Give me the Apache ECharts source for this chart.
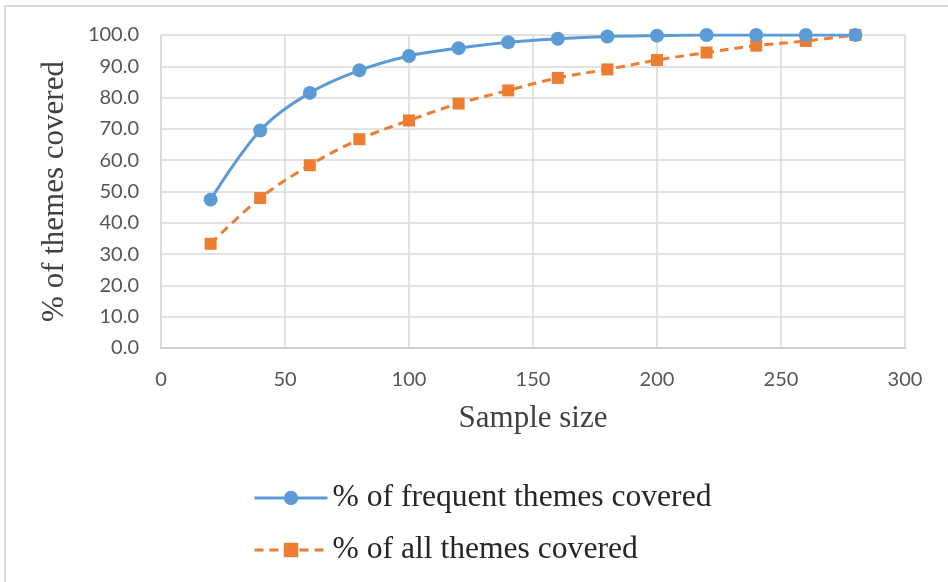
<!DOCTYPE html>
<html>
<head>
<meta charset="utf-8">
<script src="https://cdn.jsdelivr.net/npm/echarts@6/dist/echarts.min.js"></script>
<style>
  html, body { margin: 0; padding: 0; background: #ffffff; }
  #chart { width: 948px; height: 582px; }
</style>
</head>
<body>
<div id="chart"></div>
<script>
// Sample sizes (x values)
const sampleSizes = [20, 40, 60, 80, 100, 120, 140, 160, 180, 200, 220, 240, 260, 280];
// % of frequent themes covered
const frequentThemes = [47.4, 69.5, 81.5, 88.7, 93.3, 95.8, 97.7, 98.8, 99.5, 99.8, 100, 100, 100, 100];
// % of all themes covered
const allThemes = [33.3, 47.9, 58.4, 66.7, 72.7, 78.1, 82.3, 86.3, 89.0, 92.0, 94.4, 96.6, 98.1, 100];

const seriesNames = ['% of frequent themes covered', '% of all themes covered'];
const xTitle = 'Sample size';
const yTitle = '% of themes covered';

const pairs = (xs, ys) => xs.map((x, i) => [x, ys[i]]);

const chart = echarts.init(document.getElementById('chart'), null, { renderer: 'canvas' });

const serif = '"Liberation Serif", "Times New Roman", serif';
const sans = 'Lato, "Open Sans", sans-serif';
const gridColor = '#d9d9d9';

chart.setOption({
  backgroundColor: '#ffffff',
  animation: false,
  graphic: [{
    type: 'rect',
    shape: { x: 5, y: 6, width: 1200, height: 1200 },
    style: { fill: 'none', stroke: gridColor, lineWidth: 2 },
    silent: true
  }],
  grid: { left: 161, right: 43, top: 35, bottom: 234 },
  legend: {
    orient: 'vertical',
    left: 248,
    top: 477,
    itemWidth: 73,
    itemHeight: 18,
    itemGap: 20,
    lineStyle: { width: 3 },
    textStyle: { fontFamily: serif, fontSize: 31.6, color: '#262626', lineHeight: 31 },
    data: seriesNames
  },
  xAxis: {
    type: 'value',
    min: 0,
    max: 300,
    interval: 50,
    name: xTitle,
    nameLocation: 'middle',
    nameGap: 55,
    nameTextStyle: { fontFamily: serif, fontSize: 31, color: '#404040' },
    axisLine: { show: true, lineStyle: { color: '#cfcfcf', width: 2 } },
    axisTick: { show: false },
    axisLabel: { margin: 22, fontFamily: sans, fontSize: 20, color: '#555555' },
    splitLine: { show: true, lineStyle: { color: gridColor, width: 1.5 } }
  },
  yAxis: {
    type: 'value',
    min: 0,
    max: 100,
    interval: 10,
    name: yTitle,
    nameLocation: 'middle',
    nameGap: 91,
    nameTextStyle: { fontFamily: serif, fontSize: 31, color: '#404040' },
    axisLine: { show: true, lineStyle: { color: gridColor, width: 1.5 } },
    axisTick: { show: false },
    axisLabel: {
      margin: 22, fontFamily: sans, fontSize: 20, color: '#555555',
      formatter: v => v.toFixed(1)
    },
    splitLine: { show: true, lineStyle: { color: gridColor, width: 1.5 } }
  },
  series: [
    {
      name: seriesNames[0],
      type: 'line',
      data: pairs(sampleSizes, frequentThemes),
      smooth: 0.35,
      symbol: 'circle',
      symbolSize: 14,
      color: '#5b9bd5',
      lineStyle: { color: '#5b9bd5', width: 3 },
      itemStyle: { color: '#5b9bd5' },
      z: 3
    },
    {
      name: seriesNames[1],
      type: 'line',
      data: pairs(sampleSizes, allThemes),
      smooth: 0.35,
      symbol: 'rect',
      symbolSize: 12,
      color: '#ed7d31',
      lineStyle: { color: '#ed7d31', width: 3, type: [9, 6] },
      itemStyle: { color: '#ed7d31' },
      z: 2
    }
  ]
});
</script>
</body>
</html>
